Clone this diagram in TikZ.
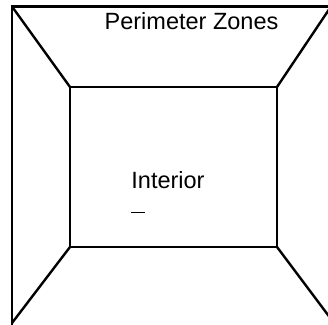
\documentclass[tikz,border=0pt]{standalone}
\usepackage{fontspec}
\setmainfont{Liberation Sans}
\usepackage{tikz}
\usetikzlibrary{positioning}
\definecolor{Ink}{HTML}{000000}

\begin{document}
\begin{tikzpicture}[
  x=1pt,y=-1pt,
  wall/.style={draw=Ink,line width=2.4pt,line join=miter},
  zone/.style={anchor=base,inner sep=0pt,text=Ink,font=\fontsize{23.5}{28}\selectfont},
  mark line/.style={draw=Ink,line width=1pt}
]
\useasboundingbox (0,0) rectangle (328,324);
\clip (0,0) rectangle (328,324);
% outer walls and inner room corners
\coordinate (oTL) at (12,6.5);
\coordinate (oTR) at (331,6.5);
\coordinate (oBL) at (12,323);
\coordinate (oBR) at (337,327);
\coordinate (iTL) at (70,87);
\coordinate (iTR) at (277,87);
\coordinate (iBL) at (70,247);
\coordinate (iBR) at (277,247);
\draw[wall] (oTL) rectangle (340,335);
\draw[wall] (iTL) rectangle (iBR);
\draw[wall] (oTL) -- (iTL);
\draw[wall] (oTR) -- (iTR);
\draw[wall] (oBL) -- (iBL);
\draw[wall] (oBR) -- (iBR);
% labels
\node[zone] (perim) at (191.5,29) {Perimeter Zones};
\node[zone] (inter) at (168,188) {Interior};
\coordinate (dashL) at (131,212);
\coordinate (dashR) at (145,212);
\draw[mark line] (dashL) -- (dashR);
\end{tikzpicture}
\end{document}
